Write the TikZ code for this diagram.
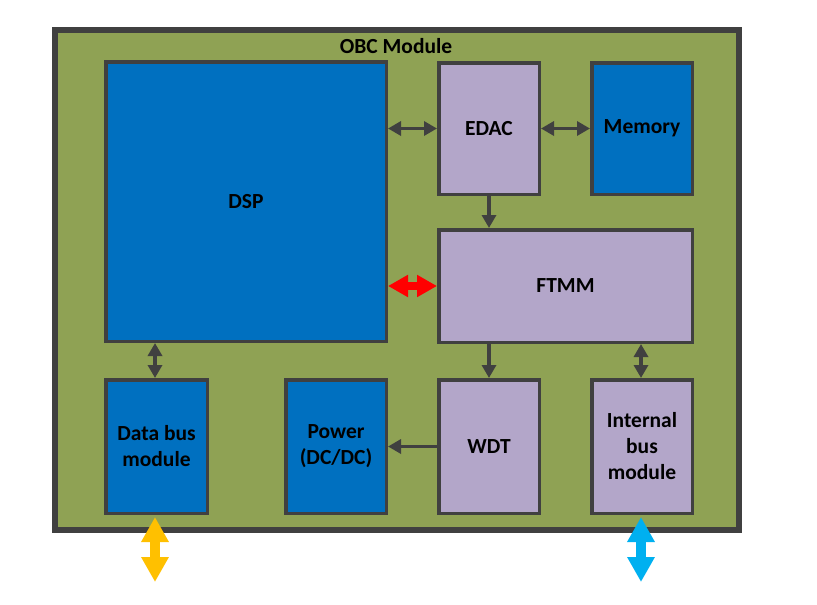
\documentclass[tikz,border=0pt]{standalone}
\usepackage{fontspec}
\setmainfont{Carlito}
\usetikzlibrary{arrows.meta}
\definecolor{olivebg}{RGB}{143,162,84}
\definecolor{dspblue}{RGB}{0,112,192}
\definecolor{lav}{RGB}{179,166,201}
\definecolor{edge}{RGB}{64,64,64}
\definecolor{ybus}{RGB}{255,192,0}
\definecolor{cbus}{RGB}{0,176,240}
\begin{document}
\begin{tikzpicture}[x=1pt,y=-1pt,
  lbl/.style={font=\fontsize{21.5}{26}\selectfont\bfseries},
  box/.style={draw=edge, line width=3.5pt, inner sep=0pt, align=center, lbl},
  bluebox/.style={box, fill=dspblue},
  lavbox/.style={box, fill=lav},
  link/.style={draw=edge, line width=3.5pt, {Triangle[length=13pt,width=14pt]}-{Triangle[length=13pt,width=14pt]}},
  onelink/.style={draw=edge, line width=3.5pt, -{Triangle[length=13pt,width=14pt]}},
  redlink/.style={draw=red, line width=8pt, {Triangle[length=20pt,width=21pt]}-{Triangle[length=20pt,width=21pt]}},
  buslink/.style={line width=10pt, {Triangle[length=25pt,width=26pt]}-{Triangle[length=25pt,width=26pt]}}]
\useasboundingbox (0,0) rectangle (817,605);
\fill[white] (0,0) rectangle (817,605);
\draw[draw=edge, fill=olivebg, line width=6pt] (55,30) rectangle (739,530);
\node[lbl] (title) at (396,46) {OBC Module};

\node[bluebox, minimum width=280.5pt, minimum height=279.5pt] (dsp) at (246,201.5) {DSP};
\node[lavbox, minimum width=100.5pt, minimum height=131.5pt] (edac) at (489,128.5) {EDAC};
\node[bluebox, minimum width=100.5pt, minimum height=131.5pt] (mem) at (642,128.5) {Memory};
\node[lavbox, minimum width=253.5pt, minimum height=112.5pt] (ftmm) at (565.5,286) {FTMM};
\node[bluebox, minimum width=101.5pt, minimum height=133.5pt] (databus) at (156.5,446.5) {Data bus\\module};
\node[bluebox, minimum width=100.5pt, minimum height=133.5pt] (power) at (336,446.5) {Power\\(DC/DC)};
\node[lavbox, minimum width=100.5pt, minimum height=133.5pt] (wdt) at (489,446.5) {WDT};
\node[lavbox, minimum width=100.5pt, minimum height=133.5pt] (ibus) at (642,446.5) {Internal\\bus\\module};

\draw[link] (dsp.east |- edac) -- (edac.west);
\draw[link] (edac.east) -- (mem.west);
\draw[onelink] (edac.south) -- (edac.south |- ftmm.north);
\draw[redlink] (dsp.east |- ftmm) -- (ftmm.west);
\draw[link] ([xshift=-1.5pt]databus.north) -- ([xshift=-1.5pt]databus.north |- dsp.south);
\draw[onelink] (wdt.north |- ftmm.south) -- (wdt.north);
\draw[link] ([xshift=-1pt]ibus.north) -- ([xshift=-1pt]ibus.north |- ftmm.south);
\draw[onelink] (wdt.west) -- (power.east |- wdt);

\coordinate (ydown) at (155,582);
\coordinate (cdown) at (641,582);
\draw[buslink, draw=ybus] ([xshift=-1.5pt,yshift=-2pt]databus.south) -- (ydown);
\draw[buslink, draw=cbus] ([xshift=-1pt,yshift=-2pt]ibus.south) -- (cdown);
\end{tikzpicture}
\end{document}
